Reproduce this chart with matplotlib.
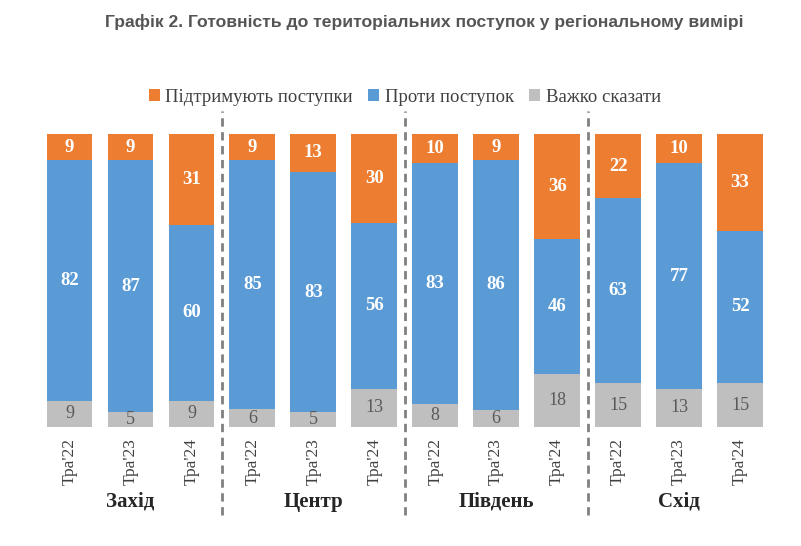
import matplotlib
matplotlib.use("Agg")
from matplotlib import pyplot as plt
import numpy as np

periods = ["Тра'22", "Тра'23", "Тра'24"] * 4
regions = ["Захід", "Центр", "Південь", "Схід"]
support = [9, 9, 31, 9, 13, 30, 10, 9, 36, 22, 10, 33]
against = [82, 87, 60, 85, 83, 56, 83, 86, 46, 63, 77, 52]
hard = [9, 5, 9, 6, 5, 13, 8, 6, 18, 15, 13, 15]

c_sup = "#ED7D31"
c_ag = "#5B9BD5"
c_hard = "#BFBFBF"
serif = "Liberation Serif"

# 100% stacked, like the original
tot = np.array(support) + np.array(against) + np.array(hard)
h_p = np.array(hard) / tot * 100
a_p = np.array(against) / tot * 100
s_p = np.array(support) / tot * 100

fig = plt.figure(figsize=(8.01, 5.46), dpi=100)
ax = fig.add_axes([39 / 801, 119 / 546, 731.5 / 801, 293 / 546])

x = np.arange(len(periods))
w = 0.75
b1 = ax.bar(x, h_p, w, color=c_hard, label="Важко сказати")
b2 = ax.bar(x, a_p, w, bottom=h_p, color=c_ag, label="Проти поступок")
bot = h_p + a_p
b3 = ax.bar(x, s_p, w, bottom=bot, color=c_sup, label="Підтримують поступки")

for i in range(len(x)):
    ax.text(x[i], h_p[i] / 2, str(hard[i]), ha="center", va="center",
            family=serif, fontsize=13, color="#595959")
    ax.text(x[i], h_p[i] + a_p[i] / 2, str(against[i]), ha="center", va="center",
            family=serif, fontsize=13.5, color="white", fontweight="bold")
    ax.text(x[i], bot[i] + s_p[i] / 2, str(support[i]), ha="center", va="center",
            family=serif, fontsize=13.5, color="white", fontweight="bold")

ax.set_xlim(-0.5, len(x) - 0.5)
ax.set_ylim(0, 100)
ax.set_xticks(x)
ax.set_xticklabels(periods, rotation=90, family=serif, fontsize=12.5, color="#404040")
ax.tick_params(axis="x", length=0, pad=8)
ax.set_yticks([])
for s in ax.spines.values():
    s.set_visible(False)

# separators between regions
for sx in [2.5, 5.5, 8.5]:
    ax.plot([sx, sx], [-30, 108], color="#808080", lw=2, ls=(0, (3, 2)), clip_on=False)

for k, r in enumerate(regions):
    ax.text(3 * k + 1, -25.5, r, ha="center", va="center", family=serif,
            fontsize=15, fontweight="bold", color="#262626")

ax.legend(handles=[b3, b2, b1], loc="center", bbox_to_anchor=(0.5, 1.125), ncol=3,
          frameon=False, prop={"family": serif, "size": 13.5}, handlelength=0.6,
          handleheight=0.6, handletextpad=0.3, columnspacing=0.8, labelcolor="#404040")

fig.text(424 / 801, 1 - 22 / 546, "Графік 2. Готовність до територіальних поступок у регіональному вимірі",
         ha="center", va="center", fontsize=12.6, fontweight="bold", color="#555555",
         family="Liberation Sans")

fig.savefig("out.png", dpi=100)
